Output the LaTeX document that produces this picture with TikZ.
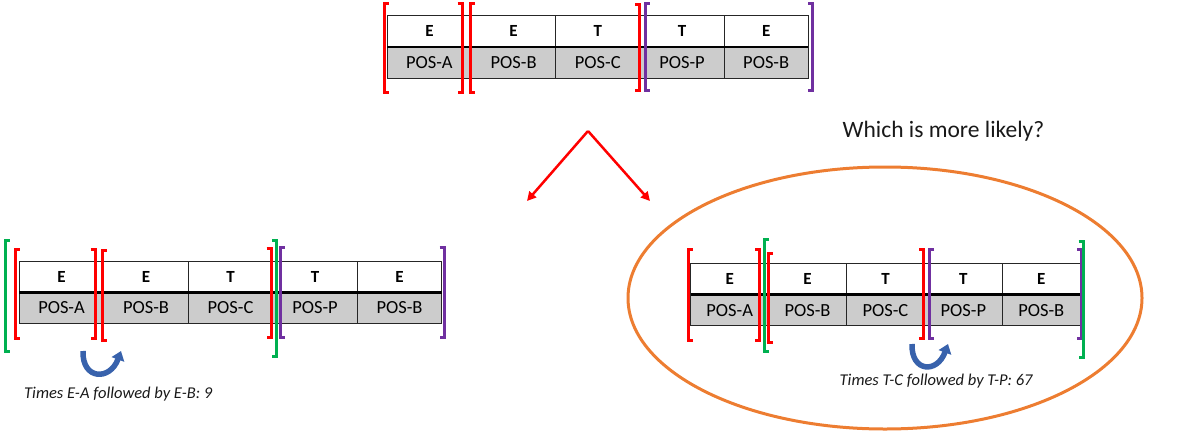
\documentclass[tikz,border=0pt]{standalone}
\usepackage{fontspec}
\setmainfont{Carlito}
\usetikzlibrary{arrows.meta}

\definecolor{brred}{RGB}{255,0,0}
\definecolor{brgreen}{RGB}{0,176,80}
\definecolor{brpurple}{RGB}{112,48,160}
\definecolor{ovalorange}{RGB}{237,125,49}
\definecolor{turnblue}{RGB}{56,98,172}
\definecolor{posgray}{RGB}{204,204,204}

\tikzset{
  cell/.style={draw=black!85, line width=1.2pt, inner sep=0pt, outer sep=0pt, anchor=north west},
  wordcell/.style={cell, fill=white, font=\fontsize{17}{20}\selectfont\bfseries},
  poscell/.style={cell, fill=posgray, font=\fontsize{18.5}{22}\selectfont},
  midline/.style={line width=2.6pt, black},
  bracket/.style={line width=3pt, line cap=butt, line join=miter},
  splitarrow/.style={brred, line width=2.5pt, -{Triangle[length=9pt,width=9pt]}},
  uturn/.style={turnblue, line width=5.5pt, -{Triangle[length=9pt,width=13pt]}},
  oval/.style={ovalorange, line width=3pt},
  note/.style={font=\fontsize{16.5}{19}\selectfont\itshape, text=black!90, inner sep=0pt, anchor=base west},
  question/.style={font=\fontsize{23.5}{27}\selectfont, text=black!90, inner sep=0pt, anchor=base west},
}

% tag table: #1 name prefix, #2 left x, #3 top y, #4 cell width, #5 row height
\newcommand\tagtable[5]{%
  \foreach \w/\p [count=\i] in {E/POS-A,E/POS-B,T/POS-C,T/POS-P,E/POS-B}{
    \node[wordcell, minimum width=#4pt, minimum height=#5pt] (#1w\i) at ({#2+(\i-1)*#4},#3) {\w};
    \node[poscell, minimum width=#4pt, minimum height=#5pt] (#1p\i) at (#1w\i.south west) {\p};
  }
  \draw[midline] (#1w1.south west) -- (#1w5.south east);
}
% opening and closing brackets: colour, x, top y, bottom y
\newcommand\openbr[4]{\draw[bracket,#1] ({#2+4.5},#3) -- (#2,#3) -- (#2,#4) -- ({#2+4.5},#4);}
\newcommand\closebr[4]{\draw[bracket,#1] ({#2-4.5},#3) -- (#2,#3) -- (#2,#4) -- ({#2-4.5},#4);}

\begin{document}
\begin{tikzpicture}[x=1pt,y=-1pt]
\useasboundingbox (0,0) rectangle (1185,431);

% sequence at the top
\tagtable{top}{387.3}{15.7}{84.2}{31.2}
\openbr{brred}{384}{3}{92}
\closebr{brred}{462}{3}{92}
\openbr{brred}{470}{3}{92}
\closebr{brred}{639.5}{4}{90.5}
\openbr{brpurple}{645}{3}{90.5}
\closebr{brpurple}{812.5}{3}{90.5}

% split into the two readings
\coordinate (apex) at (588,131);
\coordinate (lefttip) at (527,201);
\coordinate (righttip) at (650,201);
\draw[splitarrow] (apex) -- (lefttip);
\draw[splitarrow] (apex) -- (righttip);

\node[question] (q) at (842.5,137) {Which is more likely?};

% left reading
\tagtable{lft}{19.3}{261.7}{84.5}{30.8}
\openbr{brgreen}{5}{240}{351}
\openbr{brred}{15}{249}{338.5}
\closebr{brred}{95}{249}{338.5}
\openbr{brred}{102}{250.5}{340}
\closebr{brred}{271}{248}{337}
\closebr{brgreen}{276.5}{240}{356}
\openbr{brpurple}{280}{247}{337}
\closebr{brpurple}{444}{247}{337}

\coordinate (lu1) at (83,351);
\coordinate (lu2) at (121,351);
\draw[uturn] (lu1) .. controls (82,380) and (110,381) .. (lu2);
\node[note] (lnote) at (24,398.5) {Times E-A followed by E-B: 9};

% right reading, circled
\draw[oval] (885,298) ellipse [x radius=257pt, y radius=131pt];
\tagtable{rgt}{690.7}{263.3}{77.9}{31.2}
\openbr{brred}{688}{249}{340}
\closebr{brred}{759.5}{249}{340}
\openbr{brgreen}{764.5}{239.5}{351}
\openbr{brred}{768}{253}{342}
\closebr{brred}{923.5}{249}{338}
\openbr{brpurple}{929.5}{249}{338}
\closebr{brpurple}{1081.5}{249}{338}
\closebr{brgreen}{1083}{241}{357}

\coordinate (ru1) at (912,344);
\coordinate (ru2) at (948,344);
\draw[uturn] (ru1) .. controls (911,372) and (937,374) .. (ru2);
\node[note] (rnote) at (839.5,385) {Times T-C followed by T-P: 67};
\end{tikzpicture}
\end{document}
